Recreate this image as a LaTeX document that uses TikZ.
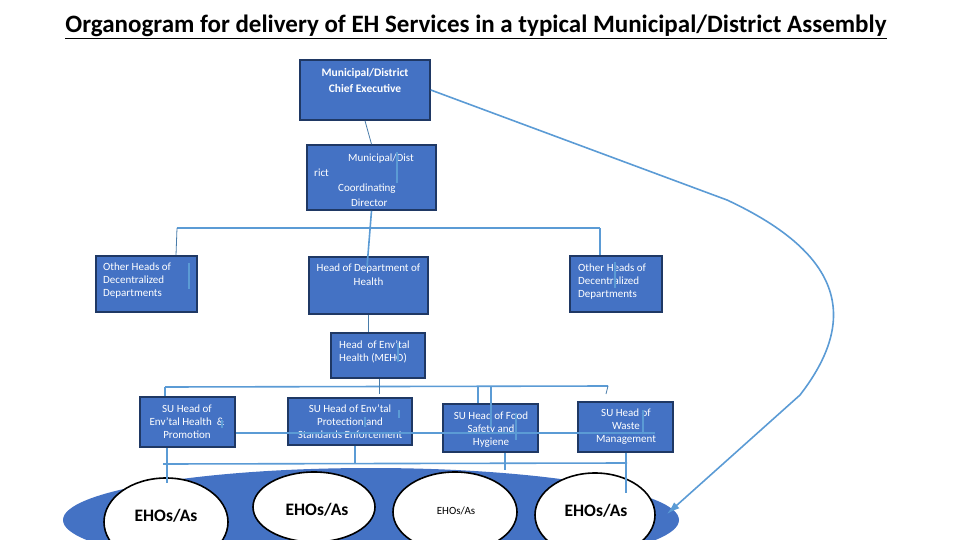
\documentclass[tikz,border=0pt]{standalone}
\usepackage{fontspec}
\setmainfont{Carlito}
\usetikzlibrary{shapes.geometric,arrows.meta}
\definecolor{boxblue}{HTML}{4472C4}
\definecolor{navy}{HTML}{1F3864}
\definecolor{conn}{HTML}{5B9BD5}
\begin{document}
\begin{tikzpicture}[x=1pt,y=-1pt,
  bx/.style={draw=navy,line width=1.6pt,fill=boxblue,inner sep=0pt},
  txt/.style={text=white,font=\fontsize{11}{13}\selectfont,inner sep=0pt},
  cn/.style={draw=conn,line width=1.6pt},
  thin/.style={draw=conn!80!black,line width=0.8pt},
  ell/.style={ellipse,draw=black,line width=1.6pt,fill=white,inner sep=0pt},
  etxt/.style={text=black,inner sep=0pt}]
\useasboundingbox (0,0) rectangle (960,540);
\clip (0,0) rectangle (960,540);
% title
\node[font=\fontsize{25}{28}\selectfont\bfseries] (title) at (476,27) {\underline{Organogram for delivery of EH Services in a typical Municipal/District Assembly}};
% bottom blob and ellipses
\node[ellipse,fill=boxblue,minimum width=616,minimum height=104,inner sep=0pt] (blob) at (371,520) {};
\node[ell,minimum width=124,minimum height=88] (e1) at (166,522) {};
\node[ell,minimum width=122,minimum height=70] (e2) at (314,507) {};
\node[ell,minimum width=124,minimum height=80] (e3) at (455,512) {};
\node[ell,minimum width=120,minimum height=84] (e4) at (595,515) {};
\node[etxt,font=\fontsize{17.5}{19}\selectfont\bfseries] (te1) at (166,516) {EHOs/As};
\node[etxt,font=\fontsize{17.5}{19}\selectfont\bfseries] (te2) at (317,510) {EHOs/As};
\node[etxt,font=\fontsize{11}{13}\selectfont] (te3) at (456,511) {EHOs/As};
\node[etxt,font=\fontsize{17.5}{19}\selectfont\bfseries] (te4) at (596,511) {EHOs/As};
% boxes
\node[bx,minimum width=130,minimum height=60] (ce) at (365,90) {};
\node[bx,minimum width=129,minimum height=65] (cd) at (371.5,177.5) {};
\node[bx,minimum width=101,minimum height=56] (ohl) at (146.5,284) {};
\node[bx,minimum width=119,minimum height=57] (hdh) at (368.5,285.5) {};
\node[bx,minimum width=92,minimum height=56] (ohr) at (616,284) {};
\node[bx,minimum width=94,minimum height=45] (meho) at (378,355.5) {};
\node[bx,minimum width=95,minimum height=50] (su1) at (187.5,422) {};
\node[bx,minimum width=124,minimum height=47] (su2) at (350,421.5) {};
\node[bx,minimum width=95,minimum height=48] (su3) at (490.5,428) {};
\node[bx,minimum width=95,minimum height=50] (su4) at (625.5,427) {};
% box texts
\node[txt,font=\fontsize{11.5}{16}\selectfont\bfseries,align=center] (tce) at (365,81) {Municipal/District\\Chief Executive};
\node[txt,anchor=north west,align=left] (tcd) at (314,154) {\hspace*{34pt}Municipal/Dist\\[2pt]rict\\[2pt]\hspace*{24pt}Coordinating\\[2pt]\hspace*{37pt}Director};
\node[txt,anchor=north west,align=left] (tohl) at (103,263) {Other Heads of\\Decentralized\\Departments};
\node[txt,anchor=north,align=center] (thdh) at (368.5,264) {Head of Department of\\[1pt]Health};
\node[txt,anchor=north west,align=left] (tohr) at (578,264) {Other Heads of\\Decentralized\\Departments};
\node[txt,anchor=north west,align=left] (tmeho) at (339,341) {Head\ \ of Env'tal\\Health (MEHO)};
\node[txt,anchor=north,align=center] (tsu1) at (187,405) {SU Head of\\Env'tal Health\ \ \&\\Promotion};
\node[txt,anchor=north,align=center] (tsu2) at (350,405) {SU Head of Env'tal\\Protection and\\Standards Enforcement};
\node[txt,anchor=north,align=center] (tsu3) at (491,412) {SU Head of Food\\Safety and\\Hygiene};
\node[txt,anchor=north,align=center] (tsu4) at (626,409) {SU Head of\\Waste\\Management};
% connectors
\coordinate (b1l) at (177,228);
\coordinate (b1r) at (600,228);
\coordinate (b2l) at (165,387);
\coordinate (b2r) at (608,386);
\coordinate (b3l) at (163,464);
\coordinate (b3r) at (627,463);
\draw[thin] (ce.south) -- (cd.north);
\draw[cn] (cd.south) -- (367,267);
\draw[cn] (b1l) -- (b1r);
\draw[thin] (b1l) -- (ohl.north -| 176,0);
\draw[cn] (b1r) -- (ohr.north -| b1r);
\draw[thin] (hdh.south) -- (meho.north -| hdh.south);
\draw[cn] (b2l) -- (b2r);
\draw[thin] (meho.south -| 379,0) -- (379,394);
\draw[cn] (b2l) -- (su1.north -| b2l);
\draw[cn] (478,386) -- (su3.north -| 478,0);
\draw[thin] (b2r) -- (606,394);
\draw[cn] (su1.east |- 0,433) -- (655,433);
\draw[cn] (b3l) -- (b3r);
\draw[cn] (su1.south -| 167,0) -- (167,483);
\draw[cn] (su2.south -| 355,0) -- (355,463);
\draw[cn] (su3.south -| 505,0) -- (505,470);
\draw[cn] (su4.south -| 626,0) -- (626,493);
% stray short strokes
\draw[cn] (189,263) -- (189,289);
\draw[cn] (397,152) -- (397,183);
\draw[cn] (615,262) -- (615,288);
\draw[cn] (398,343) -- (398,362);
\draw[cn] (222,420) -- (222,428);
\draw[cn] (399,410) -- (399,418);
\draw[cn] (365,417) -- (365,427);
\draw[cn] (491,387) -- (491,427);
\draw[cn] (516,413) -- (516,440);
\draw[cn] (643,410) -- (643,433);
% long curved connector
\coordinate (tip) at (667,514);
\draw[cn,-{Latex[length=13pt,width=8pt]}] (ce.east) -- (727,200) .. controls (845,255) and (858,320) .. (800,395) -- (tip);
\end{tikzpicture}
\end{document}
